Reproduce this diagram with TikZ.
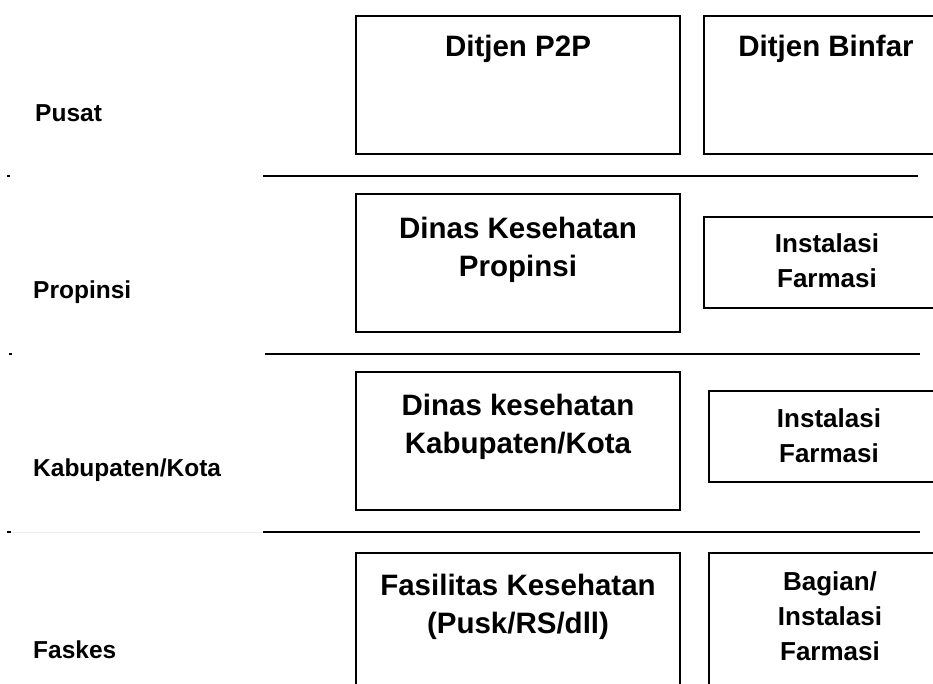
\documentclass[tikz,border=0pt]{standalone}
\usepackage{fontspec}
\setmainfont{Liberation Sans}
\begin{document}
\begin{tikzpicture}[x=1pt,y=-1pt,
  box/.style={draw=black,line width=1.6pt,minimum width=#1,inner sep=0pt},
  box/.default=10pt,
  sep/.style={line width=2pt},
  bigtxt/.style={font=\fontsize{29.5}{38}\selectfont\bfseries,align=center,inner sep=0pt},
  smalltxt/.style={font=\fontsize{26}{35}\selectfont\bfseries,align=center,inner sep=0pt},
  lvl/.style={font=\fontsize{24.5}{28}\selectfont\bfseries,anchor=west,inner sep=0pt}]
\useasboundingbox[fill=white] (0,0) rectangle (933,684);
% separators
\coordinate (s1a) at (263,176); \coordinate (s1b) at (918,176);
\coordinate (s2a) at (265,354); \coordinate (s2b) at (920,354);
\coordinate (s3a) at (263,532); \coordinate (s3b) at (920,532);
\draw[sep] (s1a) -- (s1b);
\draw[sep] (s2a) -- (s2b);
\draw[sep] (s3a) -- (s3b);
\coordinate (d1a) at (7,176); \coordinate (d1b) at (9.5,176);
\coordinate (d2a) at (9,354); \coordinate (d2b) at (11.5,354);
\coordinate (d3a) at (7,532); \coordinate (d3b) at (11,532);
\draw[line width=1.5pt] (d1a) -- (d1b);
\draw[line width=1.5pt] (d2a) -- (d2b);
\draw[line width=1.5pt] (d3a) -- (d3b);
\draw[line width=1pt,black!7] (d3b) -- (s3a);
% boxes
\node[box=324pt,minimum height=138pt] (p2p) at (518,85) {};
\node[box=240pt,minimum height=138pt] (binfar) at (824,85) {};
\node[box=324pt,minimum height=138pt] (dinkesprov) at (518,263) {};
\node[box=240pt,minimum height=91pt] (ifprov) at (824,262.5) {};
\node[box=324pt,minimum height=138pt] (dinkeskab) at (518,441) {};
\node[box=235pt,minimum height=91pt] (ifkab) at (826.5,436.5) {};
\node[box=324pt,minimum height=150pt] (faskes) at (518,628) {};
\node[box=235pt,minimum height=150pt] (bagian) at (826.5,628) {};
% box texts
\node[bigtxt] (t1) at (518,49) {Ditjen P2P};
\node[bigtxt] (t2) at (826,49) {Ditjen Binfar};
\node[bigtxt] (t3) at (518,250) {Dinas Kesehatan\\Propinsi};
\node[smalltxt] (t4) at (827,261) {Instalasi\\Farmasi};
\node[bigtxt] (t5) at (518,427) {Dinas kesehatan\\Kabupaten/Kota};
\node[smalltxt] (t6) at (829,436) {Instalasi\\Farmasi};
\node[bigtxt] (t7) at (518,607) {Fasilitas Kesehatan\\(Pusk/RS/dll)};
\node[smalltxt] (t8) at (830,616) {Bagian/\\Instalasi\\Farmasi};
% level labels
\node[lvl] (l1) at (35,113) {Pusat};
\node[lvl] (l2) at (33,292) {Propinsi};
\node[lvl] (l3) at (33,470) {Kabupaten/Kota};
\node[lvl] (l4) at (33,650) {Faskes};
\end{tikzpicture}
\end{document}
